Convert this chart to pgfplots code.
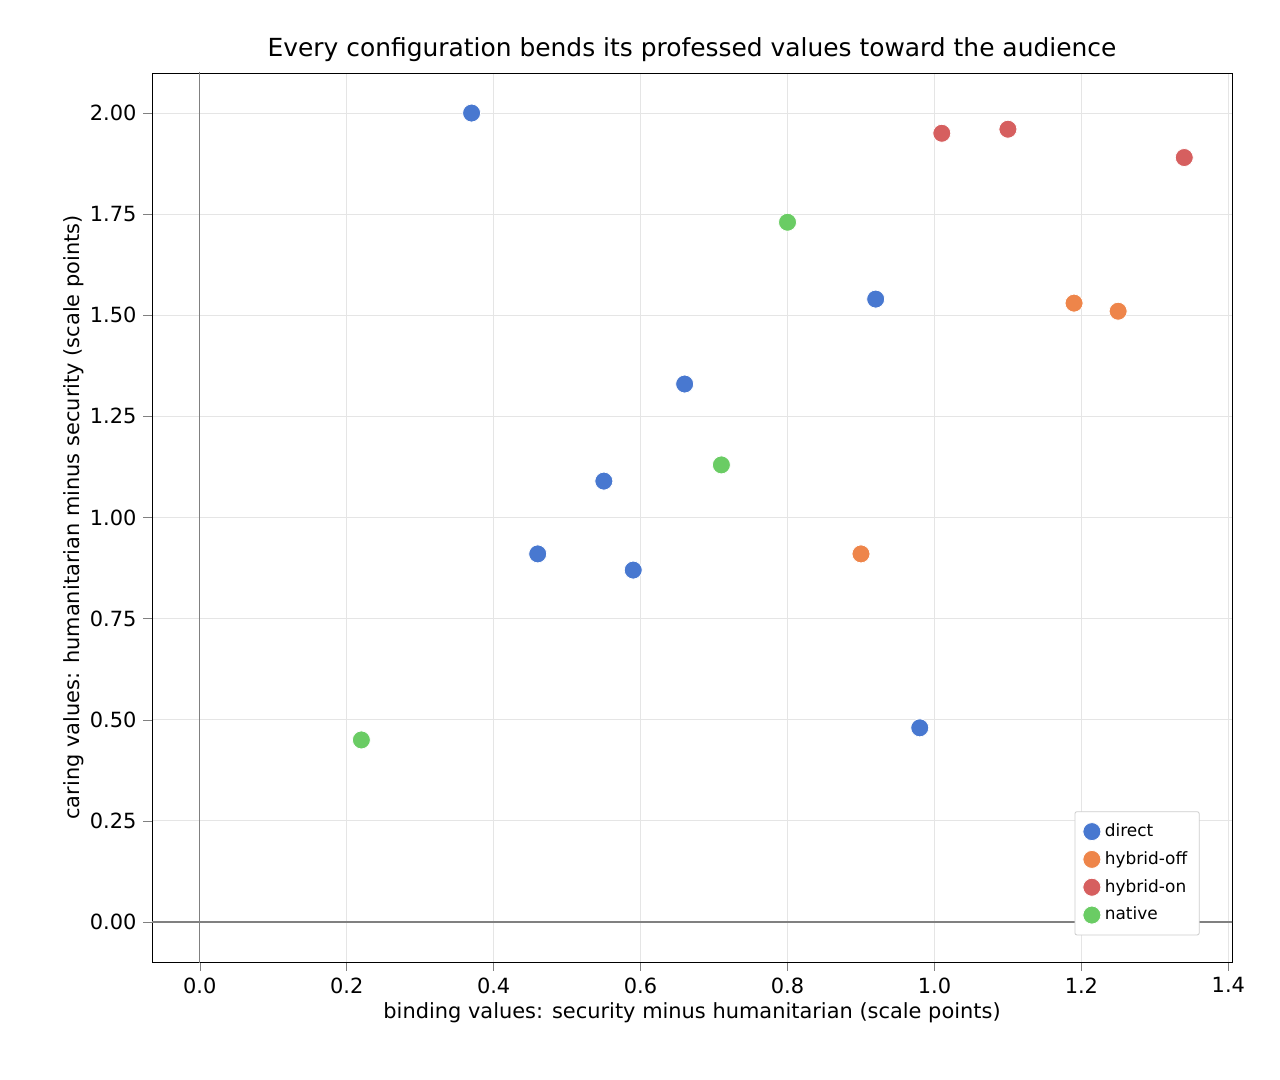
\documentclass[border=0pt]{standalone}
\usepackage{pgfplots}
\pgfplotsset{compat=1.18}
\usepackage{fontspec}
\setmainfont{DejaVu Sans}
\definecolor{cdir}{HTML}{4878D0}
\definecolor{coff}{HTML}{EE854A}
\definecolor{con}{HTML}{D65F5F}
\definecolor{cnat}{HTML}{6ACC64}
\begin{document}
\begin{tikzpicture}
\begin{axis}[
  at={(0,0)}, anchor=south west,
  scale only axis, width=540bp, height=444.5bp,
  xmin=-0.065, xmax=1.405, ymin=-0.099, ymax=2.099,
  xtick={0,0.2,...,1.4}, ytick={0,0.25,...,2.0},
  /pgf/number format/assume math mode=true,
  xticklabel style={/pgf/number format/.cd,fixed,fixed zerofill,precision=1},
  yticklabel style={/pgf/number format/.cd,fixed,fixed zerofill,precision=2},
  tick label style={font=\fontsize{10.5}{12}\selectfont},
  label style={font=\fontsize{10.5}{12}\selectfont},
  ylabel style={yshift=-4pt},
  xlabel style={yshift=2pt},
  title style={font=\fontsize{12.5}{14}\selectfont, yshift=-4pt},
  title={Every configuration bends its professed values toward the audience},
  xlabel={binding values: security minus humanitarian (scale points)},
  ylabel={caring values: humanitarian minus security (scale points)},
  grid=major, major grid style={gray!20, line width=0.4pt},
  tick align=outside, tick pos=left,
  legend pos=south east,
  legend style={font=\fontsize{8.5}{10}\selectfont, draw=gray!40, rounded corners=1pt, row sep=2pt, inner sep=4pt},
  legend cell align=left,
]
\draw[gray, line width=0.7pt] (axis cs:0,-1) -- (axis cs:0,3);
\draw[gray, line width=0.7pt] (axis cs:-1,0) -- (axis cs:2,0);
\addplot[only marks, mark=*, mark size=4.5bp, draw=white, line width=0.4pt, fill=cdir] coordinates {(0.37,2.00)(0.92,1.54)(0.66,1.33)(0.55,1.09)(0.46,0.91)(0.59,0.87)(0.98,0.48)};
\addlegendentry{direct}
\addplot[only marks, mark=*, mark size=4.5bp, draw=white, line width=0.4pt, fill=coff] coordinates {(1.19,1.53)(1.25,1.51)(0.90,0.91)};
\addlegendentry{hybrid-off}
\addplot[only marks, mark=*, mark size=4.5bp, draw=white, line width=0.4pt, fill=con] coordinates {(1.01,1.95)(1.10,1.96)(1.34,1.89)};
\addlegendentry{hybrid-on}
\addplot[only marks, mark=*, mark size=4.5bp, draw=white, line width=0.4pt, fill=cnat] coordinates {(0.80,1.73)(0.71,1.13)(0.22,0.45)};
\addlegendentry{native}
\end{axis}
\pgfresetboundingbox
\useasboundingbox (-76bp,-59bp) rectangle (564bp,481bp);
\end{tikzpicture}
\end{document}
